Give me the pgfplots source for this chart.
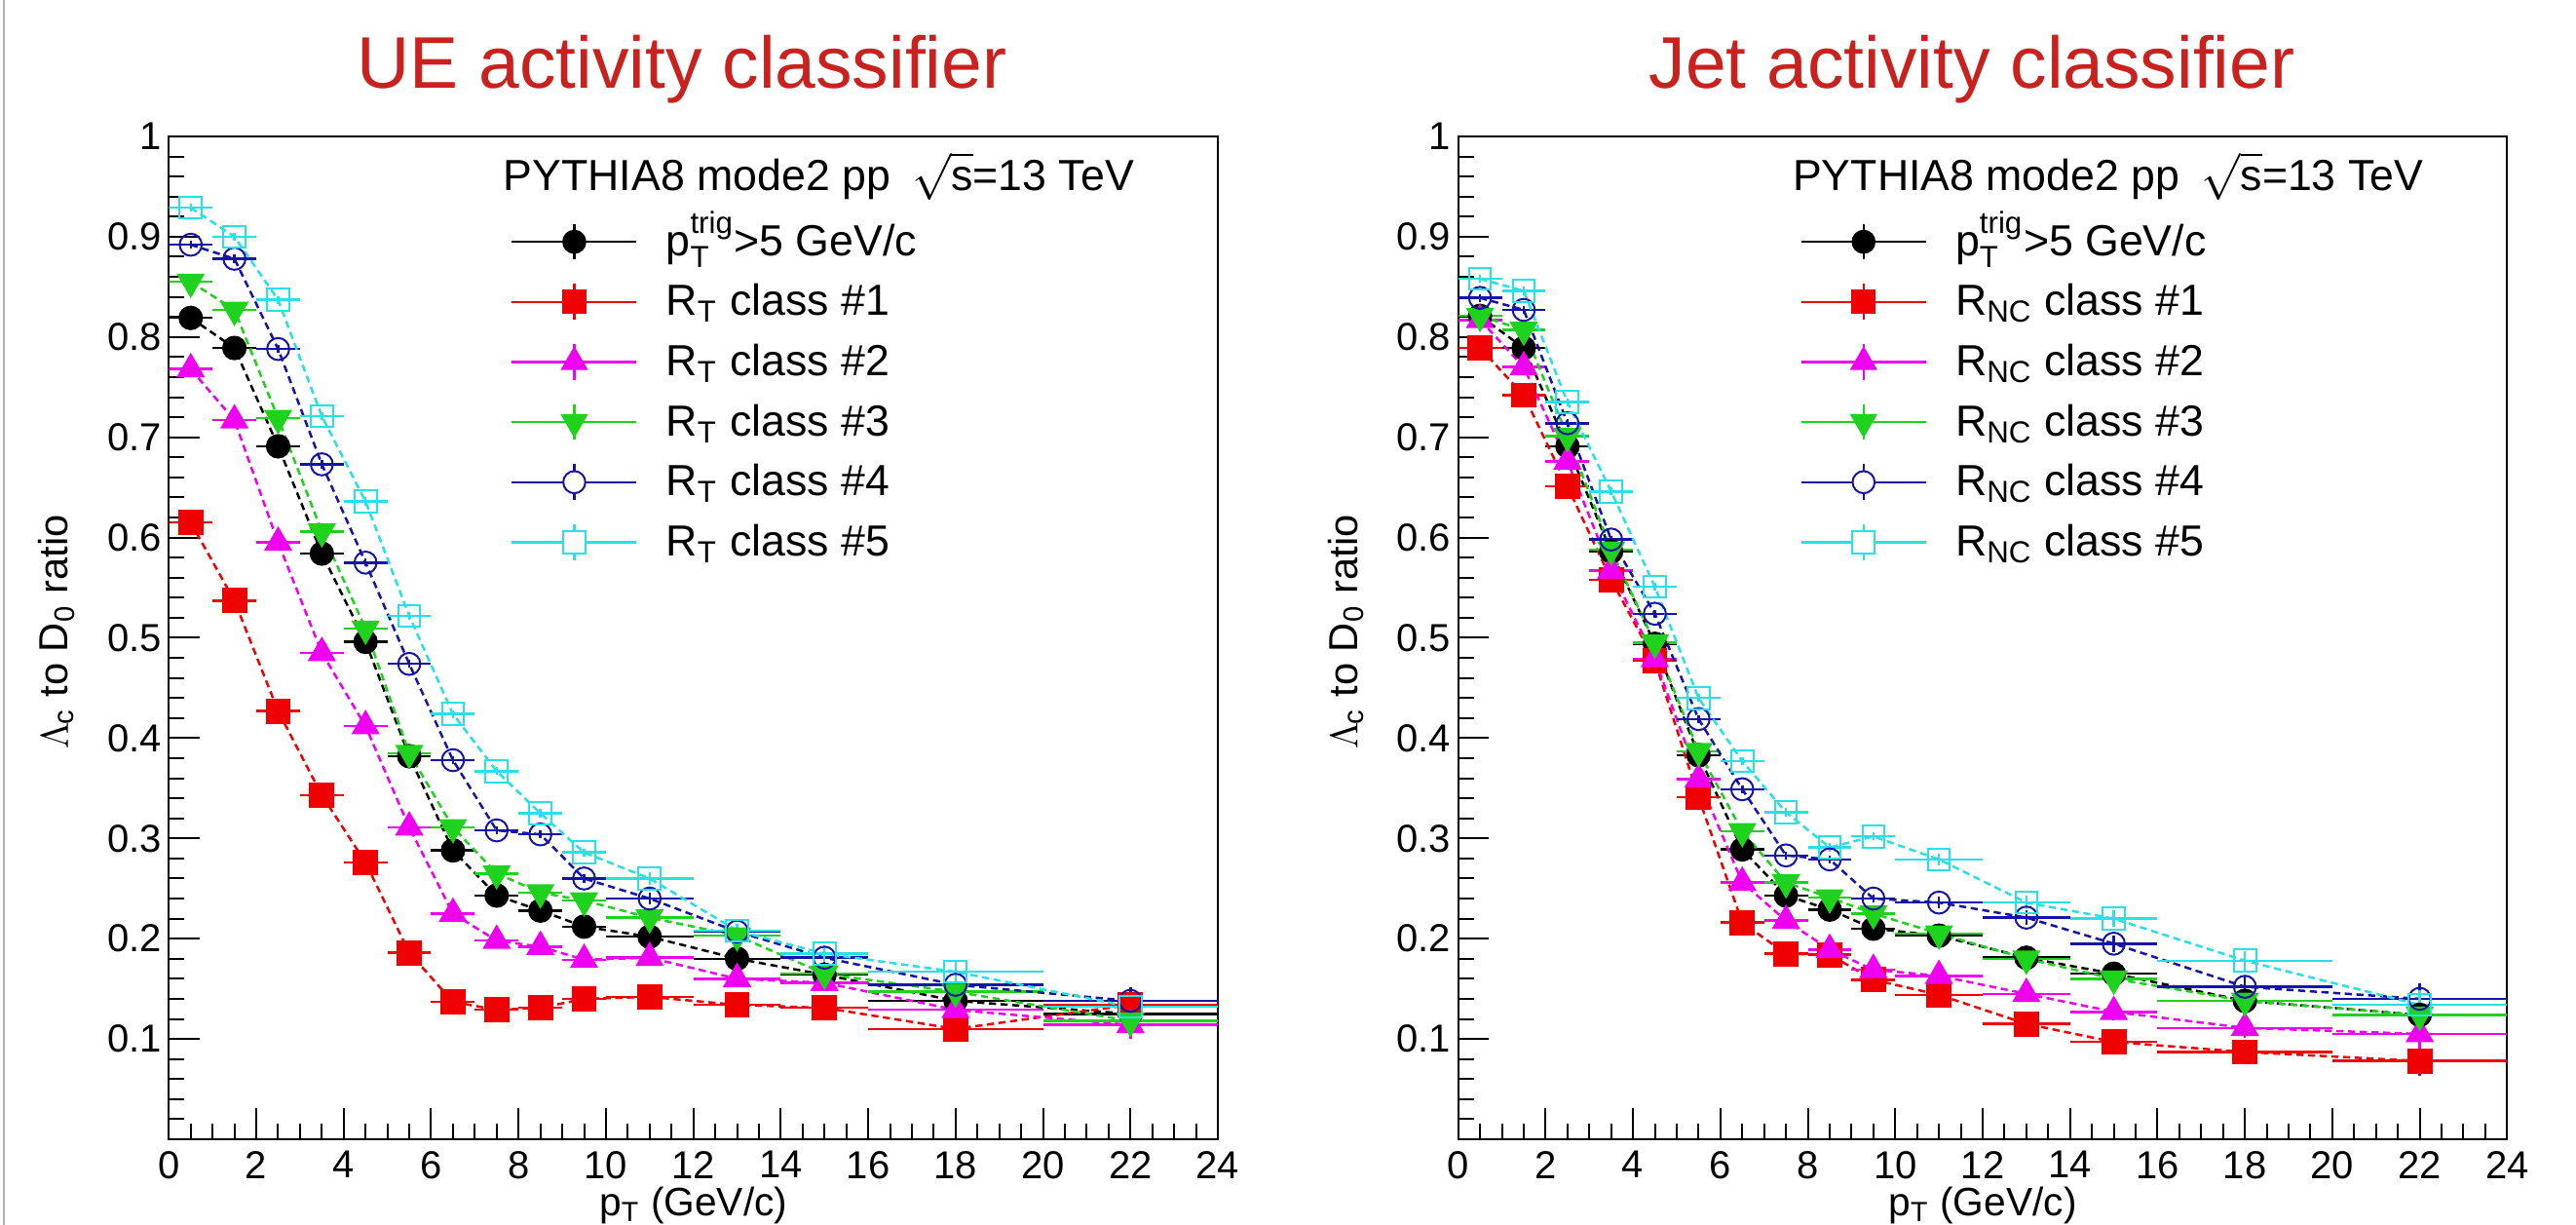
\documentclass[border=0pt]{standalone}
\usepackage{amsmath}
\usepackage{fontspec}
\setmainfont{Liberation Sans}
\usepackage{pgfplots}
\pgfplotsset{compat=1.18}
\usepackage{pgfplotstable}

\definecolor{cRed}{RGB}{240,0,0}
\definecolor{cMag}{RGB}{240,0,240}
\definecolor{cGreen}{RGB}{30,210,30}
\definecolor{cBlue}{RGB}{20,20,170}
\definecolor{cCyan}{RGB}{40,225,230}
\definecolor{cTitle}{RGB}{201,33,30}

% UE activity classifier
\pgfplotstableread{
x ex ey bk rd mg gr bl cy
0.5 0.5 0.004 0.819 0.615 0.768 0.855 0.892 0.929
1.5 0.5 0.004 0.789 0.537 0.717 0.827 0.878 0.900
2.5 0.5 0.004 0.691 0.427 0.595 0.719 0.788 0.837
3.5 0.5 0.004 0.584 0.343 0.485 0.606 0.673 0.721
4.5 0.5 0.004 0.496 0.276 0.412 0.509 0.575 0.636
5.5 0.5 0.004 0.382 0.186 0.311 0.385 0.474 0.522
6.5 0.5 0.004 0.288 0.137 0.225 0.311 0.378 0.424
7.5 0.5 0.004 0.243 0.129 0.198 0.265 0.308 0.367
8.5 0.5 0.004 0.228 0.131 0.192 0.246 0.304 0.325
9.5 0.5 0.004 0.212 0.140 0.179 0.238 0.260 0.286
11 1 0.006 0.202 0.142 0.181 0.221 0.240 0.260
13 1 0.007 0.180 0.134 0.160 0.203 0.207 0.208
15 1 0.008 0.164 0.131 0.156 0.165 0.181 0.185
18 2 0.010 0.138 0.110 0.129 0.147 0.154 0.167
22 2 0.014 0.125 0.134 0.114 0.118 0.138 0.132
}\ue

% Jet activity classifier
\pgfplotstableread{
x ex ey bk rd mg gr bl cy
0.5 0.5 0.004 0.821 0.789 0.817 0.821 0.839 0.858
1.5 0.5 0.004 0.789 0.742 0.770 0.807 0.827 0.846
2.5 0.5 0.004 0.691 0.651 0.676 0.701 0.714 0.735
3.5 0.5 0.004 0.586 0.558 0.567 0.588 0.598 0.646
4.5 0.5 0.004 0.494 0.477 0.479 0.495 0.524 0.551
5.5 0.5 0.004 0.383 0.341 0.359 0.387 0.419 0.440
6.5 0.5 0.004 0.289 0.216 0.256 0.307 0.349 0.377
7.5 0.5 0.004 0.243 0.185 0.218 0.256 0.283 0.326
8.5 0.5 0.004 0.229 0.184 0.189 0.241 0.279 0.291
9.5 0.5 0.004 0.210 0.159 0.169 0.225 0.240 0.302
11 1 0.006 0.203 0.144 0.163 0.205 0.236 0.279
13 1 0.007 0.181 0.115 0.145 0.180 0.221 0.236
15 1 0.008 0.165 0.097 0.127 0.160 0.195 0.220
18 2 0.010 0.138 0.087 0.111 0.138 0.152 0.178
22 2 0.015 0.124 0.078 0.105 0.124 0.140 0.134
}\jet

\newcommand{\series}[4]{%
  \addplot[#3, line width=0.75pt, dash pattern=on 2.2pt off 1.4pt, forget plot] table[x=x,y=#2] {#1};
  \addplot[#3, line width=0.75pt, only marks, #4, forget plot,
    error bars/.cd, x dir=both, x explicit, y dir=both, y explicit, error mark=none,
    error bar style={line width=0.75pt,solid}] table[x=x,y=#2,x error=ex,y error=ey] {#1};
}
\newcommand{\allseries}[1]{%
  \series{#1}{bk}{black}{mark=*, mark size=3.4pt, mark options={solid}}
  \series{#1}{rd}{cRed}{mark=square*, mark size=3.5pt, mark options={solid}}
  \series{#1}{mg}{cMag}{mark=triangle*, mark size=4.3pt, mark options={solid}}
  \series{#1}{gr}{cGreen}{mark=triangle*, mark size=4.3pt, mark options={solid, rotate=180}}
  \series{#1}{bl}{cBlue}{mark=o, mark size=3.4pt, mark options={solid, line width=0.6pt}}
  \series{#1}{cy}{cCyan}{mark=square, mark size=3.4pt, mark options={solid, line width=0.6pt}}
}
\newcommand{\legimg}[2]{\addlegendimage{legend image code/.code={%
  \draw[#1, line width=0.75pt] (0pt,0pt) -- (38.4pt,0pt);
  \draw[#1, line width=0.75pt] (19.2pt,-5.5pt) -- (19.2pt,5.5pt);
  \path[draw=#1, fill=#1, line width=0.6pt] plot[#2] coordinates {(19.2pt,0pt)};
}}}

\pgfplotsset{
  panel/.style={
    anchor=south west,
    scale only axis, width=323pt, height=308.7pt,
    xmin=0, xmax=24, ymin=0, ymax=1,
    xtick={0,2,4,6,8,10,12,14,16,18,20,22,24},
    ytick={0,0.1,0.2,0.3,0.4,0.5,0.6,0.7,0.8,0.9,1},
    yticklabels={,0.1,0.2,0.3,0.4,0.5,0.6,0.7,0.8,0.9,1},
    minor x tick num=3, minor y tick num=4,
    tick pos=left, tick align=inside,
    major tick length=9.5pt, minor tick length=4.8pt,
    every tick/.style={black, line width=0.6pt},
    axis line style={line width=0.6pt},
    /pgf/number format/assume math mode=true,
    tick label style={font=\fontsize{12}{14}\selectfont},
    xticklabel style={inner sep=0pt, anchor=north, yshift=-3.5pt},
    yticklabel style={inner sep=0pt, anchor=east, xshift=-2.1pt},
    label style={font=\fontsize{12.5}{15}\selectfont},
    xlabel={p$_{\text{T}}$ (GeV/c)},
    xlabel style={at={(axis description cs:0.5,-0.0765)}, anchor=base, inner sep=0pt, font=\fontsize{12.2}{14}\selectfont},
    ylabel={$\Lambda$\kern-0.05em$_{\text{c}}$ to D$_{\text{0}}$ ratio},
    ylabel style={at={(axis description cs:-0.096,0.506)}, anchor=base, inner sep=0pt},
    legend style={at={(axis description cs:0.3259,0.915)}, anchor=north west,
      draw=none, fill=none, inner sep=0pt, outer sep=0pt,
      row sep=6.1pt, column sep=8.7pt,
      font=\fontsize{13.4}{15}\selectfont,
      nodes={inner sep=0pt, text height=10.4pt, text depth=2pt}},
    legend cell align=left,
  }
}

\begin{document}
\begin{tikzpicture}
\useasboundingbox (0,0) rectangle (793.2pt,377.1pt);
\fill[white] (0,0) rectangle (793.2pt,377.1pt);
\draw[gray!60, line width=0.5pt] (1.2pt,0) -- (1.2pt,377.1pt);

\node[anchor=base, inner sep=0pt, text=cTitle, font=\fontsize{22.5}{27}\selectfont] at (210pt,349.8pt) {UE activity classifier};
\node[anchor=base, inner sep=0pt, text=cTitle, font=\fontsize{22.5}{27}\selectfont] at (607.2pt,349.8pt) {Jet activity classifier};

\begin{axis}[panel, at={(52pt,26.4pt)}]
  \allseries{\ue}
  \legimg{black}{mark=*, mark size=3.4pt}
  \addlegendentry{p$_{\text{T}}^{\text{trig}}$>5 GeV/c}
  \legimg{cRed}{mark=square*, mark size=3.5pt}
  \addlegendentry{R$_{\text{T}}$ class \#1}
  \legimg{cMag}{mark=triangle*, mark size=4.3pt}
  \addlegendentry{R$_{\text{T}}$ class \#2}
  \legimg{cGreen}{mark=triangle*, mark size=4.3pt, mark options={rotate=180}}
  \addlegendentry{R$_{\text{T}}$ class \#3}
  \legimg{cBlue}{mark=*, mark size=3.4pt, mark options={fill=white}}
  \addlegendentry{R$_{\text{T}}$ class \#4}
  \legimg{cCyan}{mark=square*, mark size=3.4pt, mark options={fill=white}}
  \addlegendentry{R$_{\text{T}}$ class \#5}
  \node[anchor=base west, inner sep=0pt, font=\fontsize{13.4}{15}\selectfont] at (axis description cs:0.3184,0.9459) {PYTHIA8 mode2 pp\hspace{0.5em}$\sqrt{\text{s}}$=13 TeV};
\end{axis}

\begin{axis}[panel, at={(449pt,26.4pt)}]
  \allseries{\jet}
  \legimg{black}{mark=*, mark size=3.4pt}
  \addlegendentry{p$_{\text{T}}^{\text{trig}}$>5 GeV/c}
  \legimg{cRed}{mark=square*, mark size=3.5pt}
  \addlegendentry{R$_{\text{NC}}$ class \#1}
  \legimg{cMag}{mark=triangle*, mark size=4.3pt}
  \addlegendentry{R$_{\text{NC}}$ class \#2}
  \legimg{cGreen}{mark=triangle*, mark size=4.3pt, mark options={rotate=180}}
  \addlegendentry{R$_{\text{NC}}$ class \#3}
  \legimg{cBlue}{mark=*, mark size=3.4pt, mark options={fill=white}}
  \addlegendentry{R$_{\text{NC}}$ class \#4}
  \legimg{cCyan}{mark=square*, mark size=3.4pt, mark options={fill=white}}
  \addlegendentry{R$_{\text{NC}}$ class \#5}
  \node[anchor=base west, inner sep=0pt, font=\fontsize{13.4}{15}\selectfont] at (axis description cs:0.3184,0.9459) {PYTHIA8 mode2 pp\hspace{0.5em}$\sqrt{\text{s}}$=13 TeV};
\end{axis}
\end{tikzpicture}
\end{document}
